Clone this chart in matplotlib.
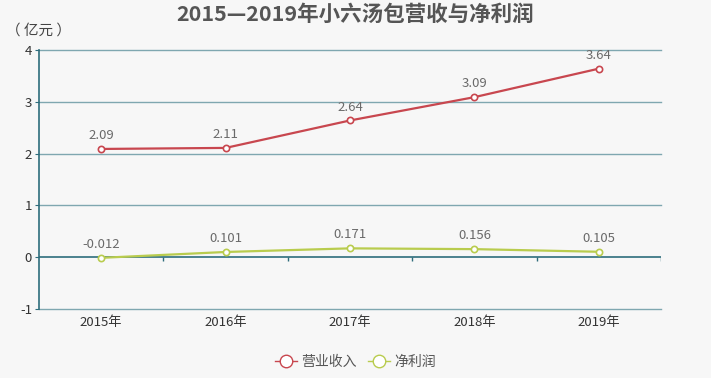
import numpy as np
import matplotlib.pyplot as plt

plt.rcParams['font.family'] = ['Noto Sans CJK SC', 'DejaVu Sans']

years = ["2015年", "2016年", "2017年", "2018年", "2019年"]
revenue = [2.09, 2.11, 2.64, 3.09, 3.64]
revenue_labels = ["2.09", "2.11", "2.64", "3.09", "3.64"]
profit = [-0.012, 0.101, 0.171, 0.156, 0.105]
profit_labels = ["-0.012", "0.101", "0.171", "0.156", "0.105"]

bg = "#f7f7f7"
red = "#c8474f"
green = "#b9cc4e"
grid_col = "#7fa7b0"
axis_col = "#2e6d7c"

fig = plt.figure(figsize=(7.11, 3.78), dpi=100, facecolor=bg)
ax = fig.add_axes([0.0549, 0.1825, 0.8748, 0.6852], facecolor=bg)

x = np.arange(len(years))
ax.set_xlim(-0.5, len(years) - 0.5)
ax.set_ylim(-1, 4)

for y in [1, 2, 3, 4, -1]:
    ax.axhline(y, color=grid_col, lw=1, zorder=1, clip_on=False)
ax.axhline(0, color=axis_col, lw=1.2, zorder=1)

# small ticks under the zero line at category boundaries
ax.vlines(np.arange(len(years)) + 0.5, -0.08, 0, color=axis_col, lw=1, zorder=1)

ax.plot(x, revenue, color=red, lw=1.6, marker="o", ms=4.5, mfc="white",
        mec=red, mew=1.2, zorder=3, label="营业收入")
ax.plot(x, profit, color=green, lw=1.6, marker="o", ms=4.5, mfc="white",
        mec=green, mew=1.2, zorder=3, label="净利润")

for xi, v, s in zip(x, revenue, revenue_labels):
    ax.annotate(s, (xi, v), xytext=(0, 5), textcoords="offset points",
                ha="center", va="bottom", fontsize=9.5, color="#6a6a6a")
for xi, v, s in zip(x, profit, profit_labels):
    ax.annotate(s, (xi, v), xytext=(0, 5), textcoords="offset points",
                ha="center", va="bottom", fontsize=9.5, color="#6a6a6a")

for side in ["top", "right", "bottom"]:
    ax.spines[side].set_visible(False)
ax.spines["left"].set_color(axis_col)
ax.spines["left"].set_linewidth(1.2)

ax.set_yticks([-1, 0, 1, 2, 3, 4])
ax.set_yticklabels(["-1", "0", "1", "2", "3", "4"])
ax.tick_params(axis="y", length=3, color=axis_col, labelsize=9.5,
               labelcolor="#333333", pad=2)
ax.set_xticks(x)
ax.set_xticklabels(years)
ax.tick_params(axis="x", length=0, labelsize=9.5, labelcolor="#333333", pad=5)

fig.text(0.5, 0.962, "2015—2019年小六汤包营收与净利润", ha="center", va="center",
         fontsize=15.5, fontweight="bold", color="#555555")
fig.text(0.008, 0.918, "（ 亿元 ）", ha="left", va="center", fontsize=10.5,
         color="#444444")

leg = fig.legend(loc="lower center", bbox_to_anchor=(0.5, -0.01), ncol=2,
                 frameon=False, fontsize=10, handlelength=1.6, markerscale=2,
                 columnspacing=0.8, handletextpad=0.3, labelcolor="#555555")
for h in leg.get_lines():
    h.set_linewidth(1.0)
    h.set_markeredgewidth(1.0)

fig.savefig("out.png", dpi=100, facecolor=bg)
